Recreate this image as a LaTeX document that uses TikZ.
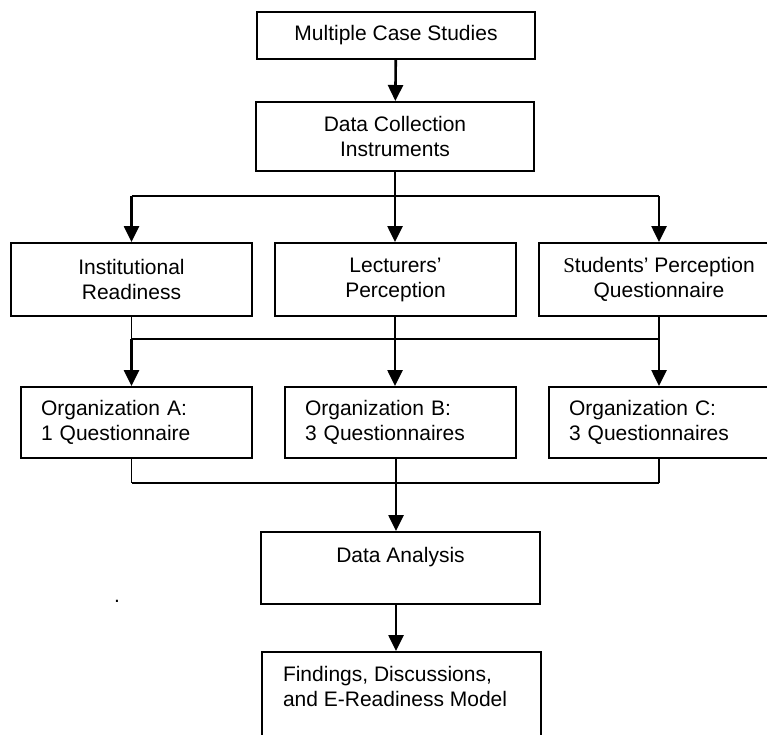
\documentclass[tikz,border=0pt]{standalone}
\usepackage{fontspec}
\setmainfont{Liberation Sans}
\newfontfamily\seriffam{Liberation Serif}
\usetikzlibrary{arrows.meta}
\begin{document}
\begin{tikzpicture}[x=1pt,y=-1pt,
  txt/.style={font=\fontsize{21}{25}\selectfont},
  box/.style={txt, draw, line width=2pt, inner sep=0pt},
  cbox/.style={box, align=center},
  lbox/.style={box, align=left, inner xsep=20pt, text width=191pt, minimum height=71pt},
  bus/.style={line width=1.8pt},
  feed/.style={line width=1.3pt},
  arr/.style={line width=2.6pt, -{Triangle[width=15pt,length=16pt]}}]
\clip (0,0) rectangle (767,734);
% boxes
\node[cbox, minimum width=278pt, minimum height=47pt] (msc) at (396,35.5) {Multiple Case Studies};
\node[cbox, minimum width=278pt, minimum height=69pt] (dci) at (395,136.5) {Data Collection\\Instruments};
\node[cbox, minimum width=241pt, minimum height=73pt] (inst) at (131.5,279.5) {Institutional\\Readiness};
\node[cbox, minimum width=241pt, minimum height=73pt] (lect) at (395.5,279.5) {Lecturers’\\Perception};
\node[cbox, minimum width=240pt, minimum height=73pt] (stud) at (659,279.5) {{\seriffam S}tudents’ Perception\\Questionnaire};
\node[lbox] (orgA) at (136.5,422.5) {Organization A:\\1 Questionnaire};
\node[lbox] (orgB) at (400.5,422.5) {Organization B:\\3 Questionnaires};
\node[lbox] (orgC) at (664.5,422.5) {Organization C:\\3 Questionnaires};
\node[box, anchor=north, minimum width=279pt, text height=30pt, text depth=42pt] (da) at (400.5,531) {Data Analysis};
\node[box, anchor=north west, inner xsep=21pt, text height=29.5pt, text depth=100pt] (fd) at (261,651)
  {\makebox[237pt][l]{\begin{tabular}[t]{@{}l@{}}Findings, Discussions,\\and E-Readiness Model\end{tabular}}};
\node[txt, inner sep=0pt] (dot) at (117,601) {.};
% connectors
\coordinate (b1) at (395,196);
\coordinate (b2) at (395,339);
\coordinate (b3) at (396,483);
\draw[arr] (msc) -- (dci);
\draw[feed] (dci.south) -- (b1);
\draw[bus] (inst.north |- b1) -- (stud.north |- b1);
\draw[arr] (inst.north |- b1) -- (inst.north);
\draw[arr] (b1) -- (b1 |- lect.north);
\draw[arr] (stud.north |- b1) -- (stud.north);
\draw[feed] (inst.south) -- (inst.south |- b2);
\draw[feed] (b2 |- lect.south) -- (b2);
\draw[feed] (stud.south) -- (stud.south |- b2);
\draw[bus] (inst.south |- b2) -- (stud.south |- b2);
\draw[arr] (inst.south |- b2) -- (inst.south |- orgA.north);
\draw[arr] (b2) -- (b2 |- orgB.north);
\draw[arr] (stud.south |- b2) -- (stud.south |- orgC.north);
\draw[feed] (inst.south |- orgA.south) -- (inst.south |- b3);
\draw[feed] (b3 |- orgB.south) -- (b3);
\draw[feed] (stud.south |- orgC.south) -- (stud.south |- b3);
\draw[bus] (inst.south |- b3) -- (stud.south |- b3);
\draw[arr] (b3) -- (b3 |- da.north);
\draw[arr] (b3 |- da.south) -- (b3 |- fd.north);
\end{tikzpicture}
\end{document}
